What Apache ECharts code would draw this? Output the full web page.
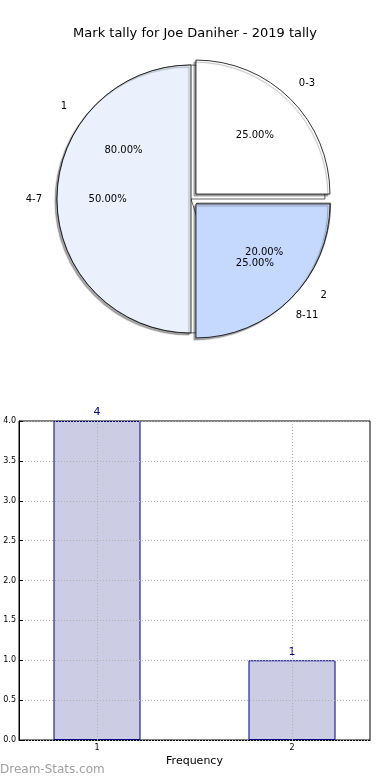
<!DOCTYPE html>
<html><head><meta charset="utf-8">
<script src="https://cdn.jsdelivr.net/npm/echarts@6/dist/echarts.min.js"></script>
<style>html,body{margin:0;padding:0;background:#fff}#c{width:390px;height:780px}</style>
</head><body><div id="c"></div>
<script>
var titleText = 'Mark tally for Joe Daniher - 2019 tally';
var rangeCats = ['0-3', '4-7', '8-11'];
var rangeVals = [1, 2, 1];
var rangeColors = ['#ffffff', '#eaf1fd', '#c5d8fd'];
var rangeExplode = [true, false, true];
var freqCats = ['1', '2'];
var freqVals = [4, 1];
var freqExplode = [false, true];
var barX = [1, 2];
var barVals = [4, 1];
var yTicks = [0, 0.5, 1, 1.5, 2, 2.5, 3, 3.5, 4];
var xTicks = [1, 2];

function pct(v, arr){var s=arr.reduce(function(a,b){return a+b;},0);return (v/s*100).toFixed(2)+'%';}

var R = 134, C = [191, 199];
var font = 'DejaVu Sans, sans-serif';
function basePie(extra){
  var o = {type:'pie', center:C, startAngle:0, clockwise:false, selectedMode:'multiple', selectedOffset:7,
    animation:false, avoidLabelOverlap:false, labelLine:{show:false}, emphasis:{disabled:true}};
  for (var k in extra) o[k]=extra[k];
  return o;
}
var shadow = {shadowColor:'rgba(0,0,0,0.35)', shadowOffsetX:-2, shadowOffsetY:2, shadowBlur:1};

var series = [];
// second pie (underneath)
series.push(basePie({z:1, radius:[0,R], label:{show:false},
  data: freqCats.map(function(c,i){return {name:c, value:freqVals[i], selected:freqExplode[i],
    itemStyle:{color:'#ffffff', borderColor:'#000', borderWidth:0.6}};})}));
// main pie
series.push(basePie({z:2, radius:[0,R], label:{show:false},
  data: rangeCats.map(function(c,i){return {name:c, value:rangeVals[i], selected:rangeExplode[i],
    itemStyle:Object.assign({color:rangeColors[i], borderColor:'#000', borderWidth:0.8}, shadow)};})}));
// label rings
function labelRing(cats, vals, expl, mode){
  var isOuter = mode==='name';
  return basePie({z:3, silent:true, radius: isOuter ? [R, R*1.3] : [0, R*1.2],
    itemStyle:{color:'rgba(0,0,0,0)', borderWidth:0},
    data: cats.map(function(c,i){return {name:c, value:vals[i], selected:expl[i]};}),
    label:{show:true, position:'inside', color:'#000', fontFamily:font, fontSize:10,
      formatter: function(p){ return isOuter ? p.name : pct(p.value, vals); }}});
}
series.push(labelRing(freqCats, freqVals, freqExplode, 'pct'));
series.push(labelRing(rangeCats, rangeVals, rangeExplode, 'pct'));
series.push(labelRing(freqCats, freqVals, freqExplode, 'name'));
series.push(labelRing(rangeCats, rangeVals, rangeExplode, 'name'));

// bar
series.push({type:'bar', xAxisIndex:0, yAxisIndex:0, animation:false, barWidth:87,
  data: barX.map(function(x,i){return [x, barVals[i]];}),
  itemStyle:{color:'#ccccE5', borderColor:'#00007f', borderWidth:1},
  label:{show:true, position:'top', color:'#00008b', fontFamily:font, fontSize:11, distance:3,
    formatter:function(p){return String(p.value[1]);}},
  emphasis:{disabled:true},
  markLine:{silent:true, symbol:'none', animation:false, label:{show:false},
    lineStyle:{color:'#b0b0b0', type:[1,2], width:1},
    data: xTicks.map(function(v){return {xAxis:v};})}
});

var chart = echarts.init(document.getElementById('c'), null, {renderer:'canvas'});
chart.setOption({
  backgroundColor:'#fff',
  title:{text:titleText, left:'center', top:22, textStyle:{fontFamily:font, fontSize:13, fontWeight:'normal', color:'#000'}},
  grid:{left:19, right:20, top:421, bottom:40, show:true, borderColor:'#000', borderWidth:1, backgroundColor:'transparent'},
  xAxis:{type:'value', min:0.6, max:2.4, name:'Frequency', nameLocation:'middle', nameGap:16,
    nameTextStyle:{fontFamily:font, fontSize:11, color:'#000'},
    axisLine:{show:true, lineStyle:{color:'#000'}},
    axisTick:{show:true, inside:true, length:4, customValues:xTicks, lineStyle:{color:'#000'}},
    axisLabel:{show:true, customValues:xTicks, fontFamily:font, fontSize:8, color:'#000', margin:4},
    splitLine:{show:false}},
  yAxis:{type:'value', min:0, max:4, interval:0.5, z:5,
    axisLine:{show:true, lineStyle:{color:'#000'}},
    axisTick:{show:true, inside:true, length:4, lineStyle:{color:'#000'}},
    axisLabel:{fontFamily:font, fontSize:8, color:'#000', margin:3, formatter:function(v){return v.toFixed(1);}},
    splitLine:{show:true, lineStyle:{color:'#b0b0b0', type:[1,2], width:1}}},
  graphic:[{type:'text', left:0, top:764, style:{text:'Dream-Stats.com', fill:'#a0a0a0', font:'12px DejaVu Sans, sans-serif'}}],
  series:series
});
</script></body></html>
